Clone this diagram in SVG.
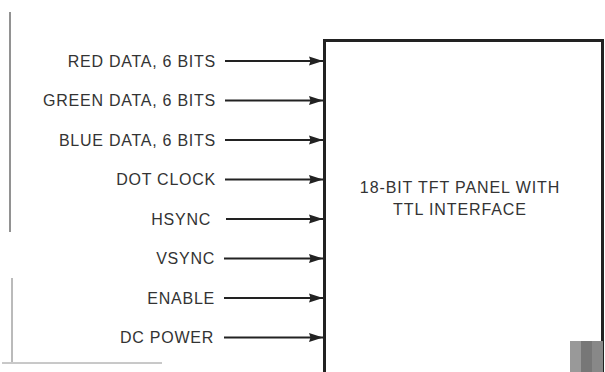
<svg xmlns="http://www.w3.org/2000/svg" width="605" height="372" viewBox="0 0 605 372">
<style>
.lbl{font-family:"Liberation Sans",Arial,sans-serif;font-size:16px;letter-spacing:0.75px;fill:#333;text-anchor:end}
.ttl{font-family:"Liberation Sans",Arial,sans-serif;font-size:16px;letter-spacing:0.9px;fill:#333;text-anchor:middle}
.wire{stroke:#222;stroke-width:1.8;fill:none;marker-end:url(#ah)}
.scan{stroke:#777;fill:none}
</style>
<defs>
<marker id="ah" markerWidth="14" markerHeight="10" refX="14" refY="5" orient="auto" markerUnits="userSpaceOnUse">
<path d="M0,0.5 L14,5 L0,9.5 L1.5,5 Z" fill="#222"/>
</marker>
</defs>
<rect width="605" height="372" fill="#fff"/>
<g id="artifacts">
<line class="scan" x1="10" y1="12" x2="10" y2="232" stroke-width="1.6"/>
<line class="scan" x1="12" y1="278" x2="12" y2="362" stroke-width="1"/>
<line class="scan" x1="2" y1="363" x2="162" y2="363" stroke-width="0.8" stroke="#aaa"/>
</g>
<g id="panel">
<rect x="324.5" y="40.5" width="278" height="340" fill="none" stroke="#222" stroke-width="3"/>
<text class="ttl" x="460" y="193">18-BIT TFT PANEL WITH</text>
<text class="ttl" x="460" y="215">TTL INTERFACE</text>
<rect x="570" y="341" width="11" height="31" fill="#999"/>
<rect x="581" y="341" width="11" height="31" fill="#777"/>
<rect x="592" y="341" width="11" height="31" fill="#888"/>
</g>
<g id="labels">
<text class="lbl" x="216" y="67">RED DATA, 6 BITS</text>
<text class="lbl" x="216" y="106">GREEN DATA, 6 BITS</text>
<text class="lbl" x="216" y="146">BLUE DATA, 6 BITS</text>
<text class="lbl" x="216" y="185">DOT CLOCK</text>
<text class="lbl" x="211" y="225">HSYNC</text>
<text class="lbl" x="215" y="264">VSYNC</text>
<text class="lbl" x="215" y="304">ENABLE</text>
<text class="lbl" x="214" y="343">DC POWER</text>
</g>
<g id="connectors">
<line class="wire" x1="225" y1="61" x2="323" y2="61"/>
<line class="wire" x1="225" y1="100.5" x2="323" y2="100.5"/>
<line class="wire" x1="225" y1="140" x2="323" y2="140"/>
<line class="wire" x1="225" y1="179.5" x2="323" y2="179.5"/>
<line class="wire" x1="226" y1="219" x2="323" y2="219"/>
<line class="wire" x1="224" y1="258.5" x2="323" y2="258.5"/>
<line class="wire" x1="224" y1="298" x2="323" y2="298"/>
<line class="wire" x1="224" y1="337.5" x2="323" y2="337.5"/>
</g>
</svg>
